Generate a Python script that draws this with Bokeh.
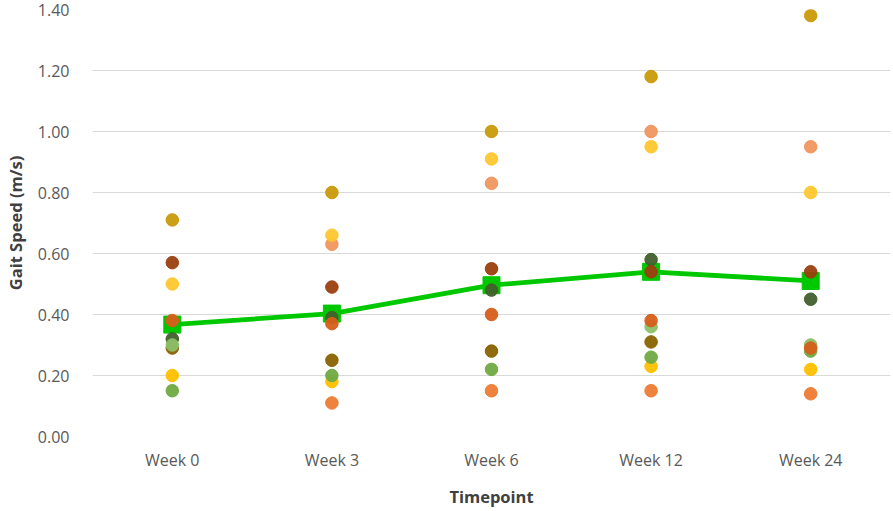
from bokeh.plotting import figure
from bokeh.models import FactorRange, Range1d, FixedTicker, PrintfTickFormatter, ColumnDataSource
from bokeh.embed import file_html
from bokeh.resources import INLINE

weeks = ["Week 0", "Week 3", "Week 6", "Week 12", "Week 24"]
y_ticks = [0.0, 0.2, 0.4, 0.6, 0.8, 1.0, 1.2, 1.4]

nan = float("nan")
# individual participants (gait speed, m/s)
p_light_orange = [nan, 0.63, 0.83, 1.00, 0.95]
p_yellow = [0.50, 0.66, 0.91, 0.95, 0.80]
p_yellow_gold = [0.20, 0.18, nan, 0.23, 0.22]
p_dark_green = [0.32, 0.39, 0.48, 0.58, 0.45]
p_brown_olive = [0.29, 0.25, 0.28, 0.31, nan]
p_light_green = [0.30, nan, nan, 0.36, 0.30]
p_medium_green = [0.15, 0.20, 0.22, 0.26, 0.28]
p_orange_red = [0.38, 0.37, 0.40, 0.38, 0.29]
p_brown_red = [0.57, 0.49, 0.55, 0.54, 0.54]
p_gold = [0.71, 0.80, 1.00, 1.18, 1.38]
p_orange = [nan, 0.11, 0.15, 0.15, 0.14]

mean_speed = [0.367, 0.403, 0.496, 0.540, 0.510]

participants = [
    (p_light_orange, "#F0965F"),
    (p_yellow, "#FFC72E"),
    (p_yellow_gold, "#FFC000"),
    (p_dark_green, "#42602D"),
    (p_brown_olive, "#8A6300"),
    (p_light_green, "#8CC068"),
    (p_medium_green, "#6FAA45"),
    (p_orange_red, "#D65F1A"),
    (p_brown_red, "#9B3F0F"),
    (p_gold, "#C99A0B"),
    (p_orange, "#EE7B31"),
]

p = figure(width=893, height=511, x_range=FactorRange(*weeks, range_padding=0),
           y_range=Range1d(0, 1.4), output_backend="svg", toolbar_location=None,
           min_border_left=91, min_border_right=3, min_border_top=9, min_border_bottom=75)
p.outline_line_color = None
p.background_fill_color = "white"
p.border_fill_color = "white"

p.line(weeks, mean_speed, line_color="#00C800", line_width=4.8)
p.scatter(weeks, mean_speed, marker="square", size=17, fill_color="#00C800", line_color="#00C800")

for vals, col in participants:
    src = ColumnDataSource(dict(x=weeks, y=vals))
    p.scatter("x", "y", source=src, size=12.5, fill_color=col, line_color=col,
              fill_alpha=0.95, line_alpha=1.0, line_width=1)

p.xgrid.grid_line_color = None
p.ygrid.grid_line_color = "#D9D9D9"
p.ygrid.grid_line_width = 1.2
p.yaxis.ticker = FixedTicker(ticks=y_ticks)
p.yaxis.formatter = PrintfTickFormatter(format="%.2f")

for ax in (p.xaxis[0], p.yaxis[0]):
    ax.axis_line_color = None
    ax.major_tick_line_color = None
    ax.minor_tick_line_color = None
    ax.major_label_text_font = "Open Sans"
    ax.major_label_text_font_size = "16px"
    ax.major_label_text_color = "#595959"
    ax.axis_label_text_font = "Open Sans"
    ax.axis_label_text_font_size = "16.5px"
    ax.axis_label_text_font_style = "bold"
    ax.axis_label_text_color = "#404040"

p.xaxis.axis_label = "Timepoint"
p.yaxis.axis_label = "Gait Speed (m/s)"
p.yaxis.major_label_standoff = 17
p.yaxis.axis_label_standoff = 8
p.xaxis.major_label_standoff = 6
p.xaxis.axis_label_standoff = 11

open("out.html", "w").write(file_html(p, INLINE))
